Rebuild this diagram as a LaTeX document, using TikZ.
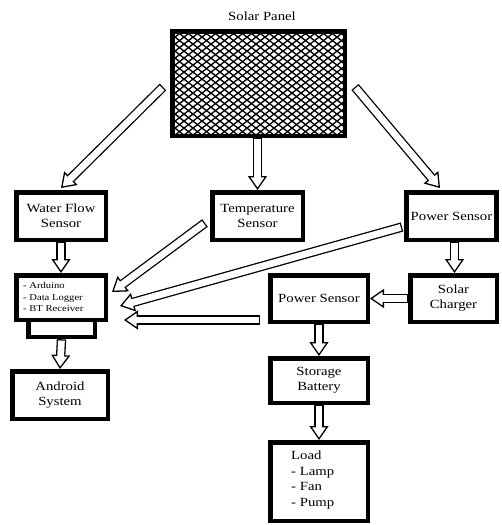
\documentclass[tikz,border=0pt]{standalone}
\usepackage{fontspec}
\setmainfont{Liberation Serif}[FakeStretch=1.18]
\usetikzlibrary{arrows.meta,calc}
\tikzset{
  box/.style={draw=black, line width=4.5pt, fill=white, align=center, inner sep=0pt,
    font=\fontsize{12.5}{15}\selectfont},
  txt/.style={inner sep=0pt, align=left, anchor=west},
  shaftout/.style={draw=black, line width=9.4pt},
  shaftin/.style={draw=white, line width=6.8pt, shorten <=1.3pt},
  ahead/.style={line width=1.3pt, -{Triangle[length=14pt, width=19pt, fill=white]}},
}
\newcommand{\barrow}[2]{%
  \draw[ahead] ($#2!14pt!#1$) -- #2;
  \draw[shaftout] #1 -- ($#2!14pt!#1$);
  \draw[shaftin] #1 -- ($#2!12pt!#1$);}
\begin{document}
\begin{tikzpicture}[x=1pt,y=-1pt]
\useasboundingbox (0,0) rectangle (501,525);
% Solar panel
\node[font=\fontsize{12.5}{14}\selectfont] (splab) at (262,16) {Solar Panel};
\node[box, minimum width=172.5pt, minimum height=104.5pt] (sp) at (258.5,83.5) {};
\begin{scope}
  \clip (174,33) rectangle (343,134);
  \foreach \i in {0,9,...,360} {
    \draw[line width=1.35pt] (\i,20) -- ++(180,140);
  }
  \foreach \i in {170,179,...,540} {
    \draw[line width=1.35pt] (\i,20) -- ++(-180,140);
  }
\end{scope}
% Boxes
\node[box, minimum width=89.5pt, minimum height=47.5pt] (wf) at (61,216) {Water Flow\\Sensor};
\node[box, minimum width=90.5pt, minimum height=47.5pt] (ts) at (257.5,216) {Temperature\\Sensor};
\node[box, minimum width=90pt, minimum height=47.5pt] (ps1) at (451.5,216) {Power Sensor};
\node[box, minimum width=66.5pt, minimum height=17pt] (base) at (61.5,328.5) {};
\node[box, minimum width=89.5pt, minimum height=44.5pt] (ard) at (61,297.5) {};
\node[txt, font=\fontsize{9}{11.5}\selectfont] (ardtxt) at (23,297)
  {- Arduino\\- Data Logger\\- BT Receiver};
\node[box, minimum width=97.5pt, minimum height=46.5pt] (ps2) at (319,298.5) {Power Sensor};
\node[box, minimum width=86.5pt, minimum height=46.5pt] (sc) at (453.5,298.5) {Solar\\Charger};
\node[box, minimum width=95.5pt, minimum height=47.5pt] (an) at (60,395) {Android\\System};
\node[box, minimum width=97.5pt, minimum height=44.5pt] (sb) at (319,380.5) {Storage\\Battery};
\node[box, minimum width=97.5pt, minimum height=78.5pt] (ld) at (319,481.5) {};
\node[txt, font=\fontsize{12.5}{15.5}\selectfont] (ldtxt) at (291,480)
  {Load\\- Lamp\\- Fan\\- Pump};
% arrow end coordinates
\coordinate (a1s) at (163,87);
\coordinate (a1e) at (61,188);
\coordinate (a3s) at (355,87);
\coordinate (a3e) at (440,188);
\coordinate (a5s) at (205,223);
\coordinate (a5e) at (112,292);
\coordinate (a6s) at (402,227);
\coordinate (a6e) at (120,306);
\coordinate (a7s) at (260,320);
\coordinate (a7e) at (124,320);
% arrows
\barrow{(a1s)}{(a1e)}
\barrow{(sp.south -| ts.north)}{(ts.north)}
\barrow{(a3s)}{(a3e)}
\barrow{(wf.south)}{(ard.north)}
\barrow{(a5s)}{(a5e)}
\barrow{(a6s)}{(a6e)}
\barrow{(a7s)}{(a7e)}
\barrow{($(ps1.south)+(3,0)$)}{($(sc.north)+(1,0)$)}
\barrow{(sc.west)}{(ps2.east)}
\barrow{(ps2.south)}{(sb.north)}
\barrow{(sb.south)}{(ld.north)}
\barrow{(base.south)}{(an.north)}
\end{tikzpicture}
\end{document}
